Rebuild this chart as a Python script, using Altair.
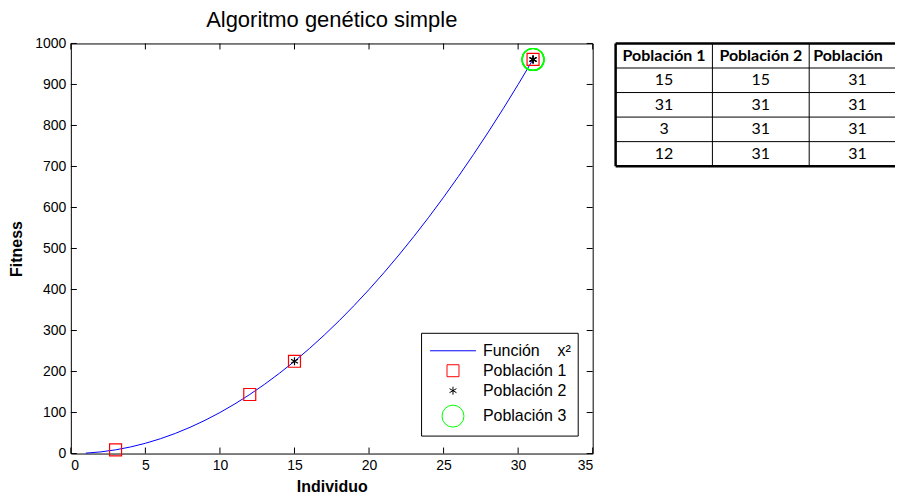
import altair as alt
import pandas as pd

# ---- data ----
curve_x = list(range(1, 32))
curve_y = [1, 4, 9, 16, 25, 36, 49, 64, 81, 100, 121, 144, 169, 196, 225, 256,
           289, 324, 361, 400, 441, 484, 529, 576, 625, 676, 729, 784, 841, 900, 961]

pob1_x = [15, 31, 3, 12]
pob1_y = [225, 961, 9, 144]
pob2_x = [15, 31, 31, 31]
pob2_y = [225, 961, 961, 961]
pob3_x = [31, 31, 31, 31]
pob3_y = [961, 961, 961, 961]

series = ["Función\u00a0\u00a0\u00a0\u00a0x²\u00a0\u00a0", "Población 1", "Población 2", "Población 3"]

x_ticks = [0, 5, 10, 15, 20, 25, 30, 35]
y_ticks = [0, 100, 200, 300, 400, 500, 600, 700, 800, 900, 1000]

table_cols = ["Población 1", "Población  2", "Población 3"]
table_p1 = [15, 31, 3, 12]
table_p2 = [15, 31, 31, 31]
table_p3 = [31, 31, 31, 31]

W, H = 523, 411
FONT = "Liberation Sans"

# ---- frames ----
curve_df = pd.DataFrame({"x": curve_x, "y": curve_y, "serie": series[0]})
pts = []
for xs, ys, name in [(pob3_x, pob3_y, series[3]), (pob1_x, pob1_y, series[1]),
                     (pob2_x, pob2_y, series[2])]:
    for a, b in zip(xs, ys):
        pts.append({"x": a, "y": b, "serie": name})
pts_df = pd.DataFrame(pts)
xt_df = pd.DataFrame({"v": x_ticks})
yt_df = pd.DataFrame({"v": y_ticks})

asterisk = "M0,-1L0,1M-0.87,-0.5L0.87,0.5M-0.87,0.5L0.87,-0.5"
long_line = "M-2,0L2,0"

xscale = alt.Scale(domain=[0, 35], nice=False, zero=False)
yscale = alt.Scale(domain=[0, 1000], nice=False, zero=False)
color_scale = alt.Scale(domain=series, range=["#0000FF", "#FF0000", "#000000", "#00FF00"])
shape_scale = alt.Scale(domain=series, range=[long_line, "square", asterisk, "circle"])
size_scale = alt.Scale(type="ordinal", domain=series, range=[529, 144, 64, 484])

x_axis = alt.Axis(values=x_ticks, ticks=False, domain=False, grid=False, labelFont=FONT,
                  labelFontSize=14, labelPadding=5, labelColor="#000",
                  title="Individuo", titleFont=FONT, titleFontSize=16, titleFontWeight="bold",
                  titlePadding=6, titleColor="#000")
y_axis = alt.Axis(values=y_ticks, format="d", ticks=False, domain=False, grid=False, labelFont=FONT,
                  labelFontSize=14, labelPadding=5, labelColor="#000",
                  title="Fitness", titleFont=FONT, titleFontSize=16, titleFontWeight="bold",
                  titlePadding=10, titleColor="#000")

legend = alt.Legend(title=None, orient="none", legendX=351, legendY=290,
                    strokeColor="#000", fillColor="#fff", padding=6, cornerRadius=0,
                    labelFont=FONT, labelFontSize=16, labelColor="#000",
                    symbolOffset=14, labelOffset=18, symbolStrokeWidth=1, rowPadding=4)

line = alt.Chart(curve_df).mark_line(strokeWidth=1).encode(
    x=alt.X("x:Q", scale=xscale, axis=x_axis),
    y=alt.Y("y:Q", scale=yscale, axis=y_axis),
    color=alt.Color("serie:N", scale=color_scale, legend=legend),
)

points = alt.Chart(pts_df).mark_point(filled=False, strokeWidth=1.2, opacity=1).encode(
    x=alt.X("x:Q", scale=xscale),
    y=alt.Y("y:Q", scale=yscale),
    color=alt.Color("serie:N", scale=color_scale, legend=legend),
    shape=alt.Shape("serie:N", scale=shape_scale, legend=legend),
    size=alt.Size("serie:N", scale=size_scale, legend=legend),
)

tick_len = 6
tb = alt.Chart(xt_df).mark_rule(color="#000", strokeWidth=1).encode(
    x=alt.X("v:Q", scale=xscale), y=alt.value(H), y2=alt.value(H - tick_len))
tt = alt.Chart(xt_df).mark_rule(color="#000", strokeWidth=1).encode(
    x=alt.X("v:Q", scale=xscale), y=alt.value(0), y2=alt.value(tick_len))
tl = alt.Chart(yt_df).mark_rule(color="#000", strokeWidth=1).encode(
    y=alt.Y("v:Q", scale=yscale), x=alt.value(0), x2=alt.value(tick_len))
tr = alt.Chart(yt_df).mark_rule(color="#000", strokeWidth=1).encode(
    y=alt.Y("v:Q", scale=yscale), x=alt.value(W), x2=alt.value(W - tick_len))

main = alt.layer(tb, tt, tl, tr, line, points).properties(
    width=W, height=H,
    title=alt.TitleParams("Algoritmo genético simple", font=FONT, fontSize=22,
                          fontWeight="normal", color="#000", offset=4, anchor="middle"),
    view=alt.ViewBackground(stroke="#000", strokeWidth=1),
)

# ---- table (cut off at the window edge, like the reference) ----
cells = []
for ci, c in enumerate(table_cols):
    cells.append({"c0": ci, "cm": ci + 0.5, "rm": 0.5, "txt": c, "head": True})
for ci, vals in enumerate([table_p1, table_p2, table_p3]):
    for ri, v in enumerate(vals):
        cells.append({"c0": ci, "cm": ci + 0.5, "rm": ri + 1.5, "txt": str(v), "head": False})
cells_df = pd.DataFrame(cells)

n_cols, n_rows = len(table_cols), len(table_p1) + 1
hl_df = pd.DataFrame({"r": list(range(n_rows + 1)), "c0": 0, "c1": n_cols,
                      "w": [2.5] + [1] * (n_rows - 1) + [2.5]})
vl_df = pd.DataFrame({"c": list(range(n_cols)), "r0": 0, "r1": n_rows,
                      "w": [2.5] + [1] * (n_cols - 1)})

TW = 280
tx_scale = alt.Scale(domain=[0, TW / 97], nice=False, zero=False, clamp=True)
ty_scale = alt.Scale(domain=[n_rows, 0], nice=False, zero=False)

hlines = alt.Chart(hl_df).mark_rule(color="#000").encode(
    x=alt.X("c0:Q", scale=tx_scale, axis=None), x2="c1:Q",
    y=alt.Y("r:Q", scale=ty_scale, axis=None),
    strokeWidth=alt.StrokeWidth("w:Q", scale=None))
vlines = alt.Chart(vl_df).mark_rule(color="#000").encode(
    x=alt.X("c:Q", scale=tx_scale),
    y=alt.Y("r0:Q", scale=ty_scale), y2="r1:Q",
    strokeWidth=alt.StrokeWidth("w:Q", scale=None))
head_txt = alt.Chart(cells_df).transform_filter("datum.head && datum.c0 < 2").mark_text(
    font="Lato", fontSize=16, fontWeight="bold", color="#000").encode(
    x=alt.X("cm:Q", scale=tx_scale), y=alt.Y("rm:Q", scale=ty_scale), text="txt:N")
# last header is cut off by the window edge
head_cut = alt.Chart(cells_df).transform_filter("datum.head && datum.c0 >= 2").mark_text(
    font="Lato", fontSize=16, fontWeight="bold", color="#000", align="left", dx=4,
    limit=TW - 2 * 97 - 5, ellipsis="\u200b").encode(
    x=alt.X("c0:Q", scale=tx_scale), y=alt.Y("rm:Q", scale=ty_scale), text="txt:N")
body_txt = alt.Chart(cells_df).transform_filter("!datum.head").mark_text(
    font="Lato", fontSize=16, color="#000").encode(
    x=alt.X("cm:Q", scale=tx_scale), y=alt.Y("rm:Q", scale=ty_scale), text="txt:N")

table = alt.layer(hlines, vlines, head_txt, head_cut, body_txt).properties(
    width=TW, height=123,
    title=alt.TitleParams(" ", font=FONT, fontSize=22, offset=1),
    view=alt.ViewBackground(stroke=None),
)

chart = alt.hconcat(main, table, spacing=20).properties(
    padding={"left": 8, "top": 8, "right": 0, "bottom": 0}
).configure_view(stroke="#000")

chart.save("out.html", embed_options={"renderer": "svg", "actions": False})
